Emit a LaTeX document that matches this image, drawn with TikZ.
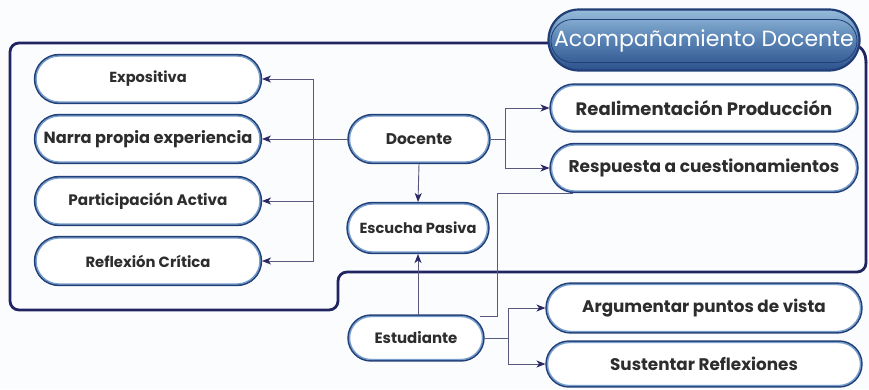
\documentclass[tikz,border=0pt]{standalone}
\usepackage{fontspec}
\setmainfont{Poppins}
\usetikzlibrary{arrows.meta,shapes.misc}
\definecolor{bg}{RGB}{251,252,253}
\definecolor{framec}{RGB}{32,36,96}
\definecolor{ringD}{RGB}{34,62,118}
\definecolor{ringL}{RGB}{118,158,204}
\definecolor{wire}{RGB}{88,88,128}
\definecolor{tipc}{RGB}{44,40,100}
\definecolor{ink}{RGB}{45,45,45}
\definecolor{titleTop}{RGB}{150,188,218}
\definecolor{titleMid}{RGB}{88,130,180}
\definecolor{titleBot}{RGB}{44,82,140}
\newcommand{\fs}[1]{\bfseries\fontsize{#1}{#1}\selectfont}
\begin{document}
\begin{tikzpicture}[x=1pt,y=-1pt,
  pill/.style={rounded rectangle, fill=white, inner sep=0pt, outer sep=2pt,
    text=ink, font=\fs{15},
    preaction={draw=ringD, line width=4.4pt}, draw=ringL, line width=1.4pt},
  frameline/.style={draw=framec, line width=2.8pt},
  wireline/.style={draw=wire, line width=0.9pt},
  arr/.style={wireline, -{Stealth[length=9pt,width=7pt,inset=2.5pt,color=tipc]}}
]
\useasboundingbox[fill=bg] (0,0) rectangle (869,389);

% outer frame around the teacher's side
\draw[frameline, rounded corners=9pt] (600,43) -- (10,43) -- (10,310) -- (338,310)
  -- (338,272) -- (866,272) -- (866,62);
\draw[frameline] (866,63) .. controls (866,52) and (862,46) .. (850,43);

% heading pill
\node[rounded rectangle, draw=ringD, line width=2.2pt, minimum width=311pt,
  minimum height=61pt, top color=titleTop, bottom color=titleBot, middle color=titleMid,
  inner sep=0pt] (title) at (704,40) {};
\node[rounded rectangle, draw=ringD, line width=0.8pt, minimum width=297pt,
  minimum height=43pt, inner sep=0pt, text=white,
  font=\fontsize{22}{22}\selectfont] (titletext) at (704,41) {Acompañamiento Docente};

% left column
\node[pill, minimum width=224pt, minimum height=46pt, font=\fs{14.6}] (expo)  at (148,79)  {Expositiva};
\node[pill, minimum width=224pt, minimum height=46pt, font=\fs{16.2}] (narra) at (148,139) {Narra propia experiencia};
\node[pill, minimum width=224pt, minimum height=46pt, font=\fs{15.2}] (part)  at (148,201) {Participación Activa};
\node[pill, minimum width=224pt, minimum height=46pt, font=\fs{14.8}] (refl)  at (148,261) {Reflexión Crítica};

% centre column
\node[pill, minimum width=139pt, minimum height=46pt, font=\fs{15.5}] (doc) at (419,139) {Docente};
\node[pill, minimum width=139pt, minimum height=48pt, font=\fs{14.6}] (esc) at (418,228) {Escucha Pasiva};
\node[pill, minimum width=133pt, minimum height=43pt, font=\fs{15}] (est) at (416,338) {Estudiante};

% right column
\node[pill, minimum width=305pt, minimum height=45pt, font=\fs{18}] (real) at (704,108) {Realimentación Producción};
\node[pill, minimum width=305pt, minimum height=46pt, font=\fs{17}] (resp) at (704,168) {Respuesta a cuestionamientos};
\node[pill, minimum width=313pt, minimum height=47pt, font=\fs{16.8}] (arg)  at (704,308) {Argumentar puntos de vista};
\node[pill, minimum width=313pt, minimum height=43pt, font=\fs{16.8}] (sust) at (704,364) {Sustentar Reflexiones};

% bus positions
\coordinate (lbus) at (313,0);
\coordinate (rbus) at (505,0);
\coordinate (ebus) at (508,0);
\coordinate (estout) at ([xshift=64pt,yshift=-2pt]est.north);

% Docente to the left column
\draw[arr] (doc.west) -- (doc.west -| narra.east);
\draw[arr] (doc.west -| lbus) |- (expo.east);
\draw[arr] (doc.west -| lbus) |- (part.east);
\draw[arr] (doc.west -| lbus) |- (refl.east);

% Docente to the right column
\draw[wireline] (doc.east) -- (doc.east -| rbus);
\draw[arr] (doc.east -| rbus) |- (real.west);
\draw[arr] (doc.east -| rbus) |- (resp.west);

% vertical links to Escucha Pasiva
\draw[arr] (doc.south) -- (esc.north);
\draw[arr] (est.north -| esc.south) -- (esc.south);

% Estudiante links
\draw[wireline] (estout) -- ++(17,0) |- ([xshift=-131pt]resp.south);
\draw[wireline] (est.east) -- (est.east -| ebus);
\draw[arr] (est.east -| ebus) |- (arg.west);
\draw[arr] (est.east -| ebus) |- (sust.west);
\end{tikzpicture}
\end{document}
